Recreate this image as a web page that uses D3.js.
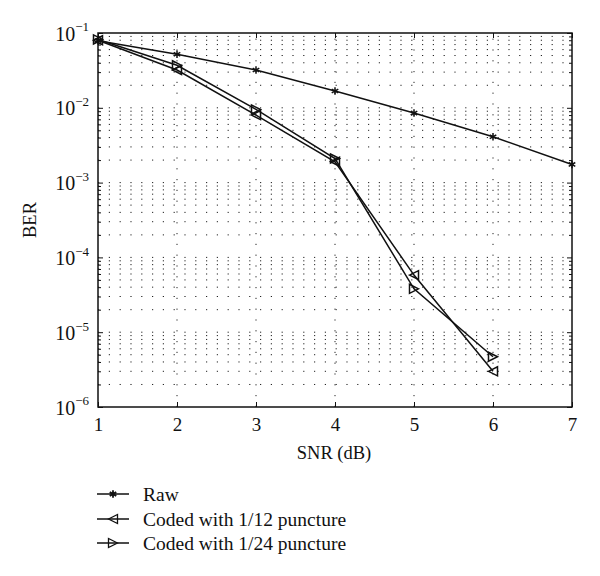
<!DOCTYPE html>
<meta charset="utf-8">
<style>
    body { margin: 0; background: #fff; }
    svg text { font-family: "Liberation Serif", "DejaVu Serif", serif; fill: #111; }
    .grid line { stroke: #222; stroke-width: 1; stroke-dasharray: 1.2,9.6; }
    .axis path { display: none; }
    .axis line { stroke: #111; stroke-width: 1; }
    .series path { fill: none; stroke: #111; stroke-width: 1.5; }
</style>
<svg width="600" height="576"></svg>
<script src="https://d3js.org/d3.v7.min.js"></script>
<script>
    // data
    const snr = [1, 2, 3, 4, 5, 6, 7];
    const raw = [0.079, 0.052, 0.032, 0.0168, 0.0085, 0.0041, 0.00175];
    const coded12 = [0.080, 0.032, 0.0080, 0.0019, 5.8e-5, 3.0e-6];
    const coded24 = [0.082, 0.037, 0.0095, 0.0021, 3.8e-5, 4.7e-6];
    const seriesNames = ["Raw", "Coded with 1/12 puncture", "Coded with 1/24 puncture"];
    const xTicks = [1, 2, 3, 4, 5, 6, 7];
    const yExponents = [-1, -2, -3, -4, -5, -6];

    let svg = d3.select("svg");
    const plotLeft = 98, plotRight = 572, plotTop = 33, plotBottom = 407;

    let x = d3.scaleLinear().domain([1, 7]).range([plotLeft, plotRight]);
    let y = d3.scaleLog().domain([1e-6, 1e-1]).range([plotBottom, plotTop]);

    const majors = yExponents.map(e => Math.pow(10, e));
    let minors = [];
    for (let e = -6; e < -1; e++) {
        for (let m = 2; m <= 9; m++) minors.push(m * Math.pow(10, e));
    }

    // dotted grid
    let grid = svg.append("g").attr("class", "grid");
    grid.selectAll("line.h")
        .data(majors.concat(minors).filter(v => v > 1e-6 && v < 1e-1))
        .enter().append("line")
        .attr("x1", plotLeft).attr("x2", plotRight)
        .attr("y1", d => y(d)).attr("y2", d => y(d));
    grid.selectAll("line.v")
        .data(xTicks.slice(1, -1))
        .enter().append("line")
        .attr("y1", plotBottom).attr("y2", plotTop)
        .attr("x1", d => x(d)).attr("x2", d => x(d));

    // axes (ticks point inward)
    svg.append("g").attr("class", "axis")
        .attr("transform", `translate(0,${plotBottom})`)
        .call(d3.axisBottom(x).tickValues(xTicks).tickSize(-5).tickPadding(11).tickFormat(d3.format("d")))
        .selectAll("text").attr("font-size", 19);
    svg.append("g").attr("class", "axis")
        .attr("transform", `translate(0,${plotTop})`)
        .call(d3.axisTop(x).tickValues(xTicks).tickSize(-5).tickFormat(""));

    let yAxis = svg.append("g").attr("class", "axis")
        .attr("transform", `translate(${plotLeft},0)`)
        .call(d3.axisLeft(y).tickValues(majors).tickSize(-5).tickFormat(""));
    svg.append("g").attr("class", "axis")
        .attr("transform", `translate(${plotLeft},0)`)
        .call(d3.axisLeft(y).tickValues(minors).tickSize(-3).tickFormat(""));
    svg.append("g").attr("class", "axis")
        .attr("transform", `translate(${plotRight},0)`)
        .call(d3.axisRight(y).tickValues(majors).tickSize(-5).tickFormat(""));
    svg.append("g").attr("class", "axis")
        .attr("transform", `translate(${plotRight},0)`)
        .call(d3.axisRight(y).tickValues(minors).tickSize(-3).tickFormat(""));

    // 10^k labels
    yAxis.selectAll(".tick").each(function (d) {
        let t = d3.select(this).append("text")
            .attr("x", -9).attr("dy", "0.35em")
            .attr("text-anchor", "end").attr("font-size", 20);
        t.append("tspan").text("10");
        t.append("tspan").attr("font-size", 13).attr("dy", "-0.7em")
            .text("\u2212" + Math.abs(Math.round(Math.log10(d))));
    });

    // frame
    svg.append("rect")
        .attr("x", plotLeft).attr("y", plotTop)
        .attr("width", plotRight - plotLeft).attr("height", plotBottom - plotTop)
        .attr("fill", "none").attr("stroke", "#111").attr("stroke-width", 1.5);

    // axis titles
    svg.append("text").attr("x", (plotLeft + plotRight) / 2 - 1).attr("y", 459)
        .attr("text-anchor", "middle").attr("font-size", 18.5).text("SNR (dB)");
    svg.append("text").attr("transform", "translate(36,220) rotate(-90)")
        .attr("text-anchor", "middle").attr("font-size", 18.5).text("BER");

    // markers
    const star = d3.symbol().type(d3.symbolAsterisk).size(40);
    function tri(dir) {
        const s = 4.5;
        return dir < 0
            ? `M${-s},0L${s},${-s}L${s},${s}Z`
            : `M${s},0L${-s},${-s}L${-s},${s}Z`;
    }
    function marker(g, kind) {
        if (kind === 0) {
            g.append("path").attr("d", star).attr("fill", "none")
                .attr("stroke", "#111").attr("stroke-width", 1.8);
        } else {
            g.append("path").attr("d", tri(kind === 1 ? -1 : 1))
                .attr("fill", "none").attr("stroke", "#111").attr("stroke-width", 1.3);
        }
    }

    const line = d3.line().x((d, i) => x(snr[i])).y(d => y(d));
    const allSeries = [raw, coded12, coded24];
    allSeries.forEach((vals, k) => {
        let g = svg.append("g").attr("class", "series");
        g.append("path").attr("d", line(vals));
        vals.forEach((v, i) => {
            marker(g.append("g").attr("transform", `translate(${x(snr[i])},${y(v)})`), k);
        });
    });

    // legend
    const legendY = [494, 519, 543];
    seriesNames.forEach((name, k) => {
        let g = svg.append("g").attr("transform", `translate(97,${legendY[k]})`);
        g.append("line").attr("x1", 0).attr("x2", 32).attr("y1", 0).attr("y2", 0)
            .attr("stroke", "#111").attr("stroke-width", 1.5);
        marker(g.append("g").attr("transform", "translate(16,0)"), k);
        g.append("text").attr("x", 46).attr("dy", "0.35em").attr("font-size", 19.5).text(name);
    });
</script>
<body>
</body>
